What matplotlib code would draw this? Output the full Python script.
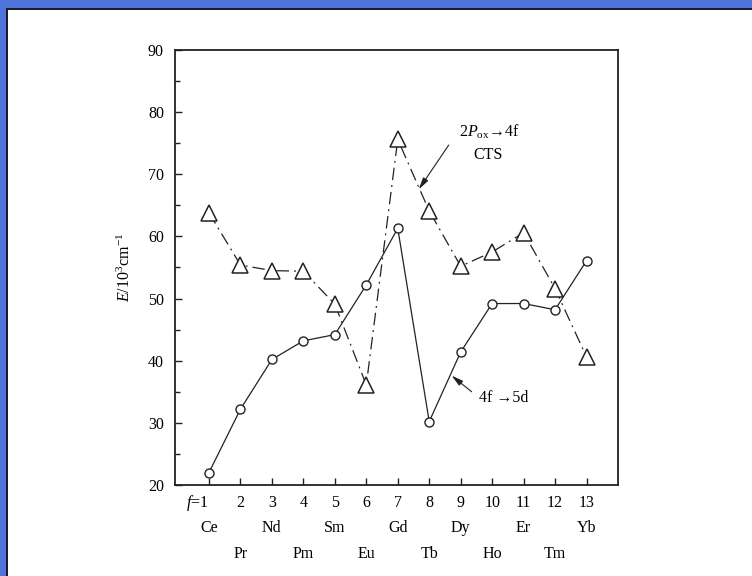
import matplotlib
matplotlib.use("Agg")
import matplotlib.pyplot as plt
from matplotlib.patches import Rectangle
from matplotlib.ticker import MultipleLocator

plt.rcParams["font.family"] = ["Liberation Serif", "DejaVu Serif"]
plt.rcParams["mathtext.fontset"] = "custom"
plt.rcParams["mathtext.rm"] = "Liberation Serif"
plt.rcParams["mathtext.it"] = "Liberation Serif:italic"
plt.rcParams["mathtext.bf"] = "Liberation Serif:bold"

# values
f_num = list(range(1, 14))
top_row = ["Ce", "", "Nd", "", "Sm", "", "Gd", "", "Dy", "", "Er", "", "Yb"]
bottom_row = ["", "Pr", "", "Pm", "", "Eu", "", "Tb", "", "Ho", "", "Tm", ""]
cts = [63.8, 55.4, 54.5, 54.4, 49.1, 36.1, 75.6, 64.1, 55.2, 57.5, 60.6, 51.6, 40.6]
f5d = [22.0, 32.2, 40.2, 43.2, 44.2, 52.2, 61.3, 30.2, 41.4, 49.2, 49.2, 48.2, 56.1]

W, H = 752, 576
fig = plt.figure(figsize=(W / 100, H / 100), dpi=100)
fig.patch.set_facecolor("white")

# blue frame strip + dark edge (top and left only)
blue = "#4f74d9"
dark = "#1c1c2c"
fig.add_artist(Rectangle((0, 1 - 8 / H), 1, 8 / H, transform=fig.transFigure,
                         color=blue, lw=0))
fig.add_artist(Rectangle((0, 0), 6 / W, 1, transform=fig.transFigure,
                         color=blue, lw=0))
fig.add_artist(Rectangle((6 / W, 1 - 10 / H), 1, 2 / H, transform=fig.transFigure,
                         color=dark, lw=0))
fig.add_artist(Rectangle((6 / W, 0), 2 / W, 1 - 8 / H, transform=fig.transFigure,
                         color=dark, lw=0))

ax = fig.add_axes([175 / W, 91 / H, 443 / W, 435 / H])

ink = "#222222"
ax.plot(f_num, cts, color=ink, lw=0.9, dashes=(10, 4, 1.5, 4),
        marker="^", markersize=11.5, markerfacecolor="white",
        markeredgecolor=ink, markeredgewidth=1.1, zorder=3)
ax.plot(f_num, f5d, color=ink, lw=0.9, ls="-",
        marker="o", markersize=6.5, markerfacecolor="white",
        markeredgecolor=ink, markeredgewidth=1.0, zorder=4)

ax.set_xlim(-0.08, 14)
ax.set_ylim(20, 90)

for side in ("left", "bottom", "right", "top"):
    ax.spines[side].set_linewidth(1.3)
    ax.spines[side].set_color(ink)

ax.set_xticks(f_num)
ax.yaxis.set_major_locator(MultipleLocator(10))
ax.yaxis.set_minor_locator(MultipleLocator(5))
ax.tick_params(axis="both", which="major", direction="in", length=5, width=1.0,
               color=ink, labelsize=11.5, top=False, right=False)
ax.tick_params(axis="y", which="minor", direction="in", length=3.5, width=1.0,
               color=ink, right=False)
ax.tick_params(axis="y", pad=8)
ax.tick_params(axis="x", labelbottom=False)

xt = ax.get_xaxis_transform()
for f, a, b in zip(f_num, top_row, bottom_row):
    if f == 1:
        ax.text(1.0 - 0.02, -0.0414, "$f$=1", transform=xt, ha="right",
                va="center", fontsize=11.5)
    else:
        ax.text(f, -0.0414, str(f), transform=xt, ha="center", va="center",
                fontsize=11.5)
    if a:
        ax.text(f, -0.0989, a, transform=xt, ha="center", va="center",
                fontsize=11.5)
    if b:
        ax.text(f, -0.1586, b, transform=xt, ha="center", va="center",
                fontsize=11.5)

ax.set_ylabel(r"$E$/10$^3$cm$^{-1}$", fontsize=11.5, labelpad=10)

arrow = dict(arrowstyle="-|>,head_length=0.7,head_width=0.18", color=ink,
             lw=0.8, shrinkA=0, shrinkB=0)
ax.annotate("", xy=(7.67, 67.6), xytext=(8.62, 74.7), arrowprops=arrow)
ax.text(9.9, 76.8, r"2$P_{\rm ox}$→4f", ha="center", va="center", fontsize=11.5)
ax.text(9.87, 73.1, "CTS", ha="center", va="center", fontsize=11.5)

ax.annotate("", xy=(8.71, 37.6), xytext=(9.35, 35.0), arrowprops=arrow)
ax.text(10.37, 34.0, "4f →5d", ha="center", va="center", fontsize=11.5)

fig.savefig("out.png", dpi=100, facecolor=fig.get_facecolor())
